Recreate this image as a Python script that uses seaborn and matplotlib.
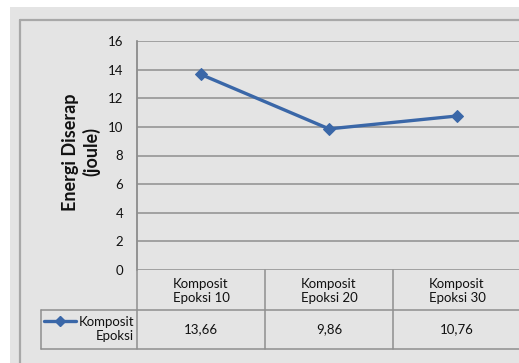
import matplotlib
matplotlib.use("Agg")
import matplotlib.pyplot as plt
import seaborn as sns
import pandas as pd
from matplotlib.lines import Line2D
from matplotlib.patches import Rectangle

# Data
categories = ["Komposit\nEpoksi 10", "Komposit\nEpoksi 20", "Komposit\nEpoksi 30"]
energy = [13.66, 9.86, 10.76]
series_name = "Komposit\nEpoksi"
y_ticks = [0, 2, 4, 6, 8, 10, 12, 14, 16]

sns.set_theme(style="white")
plt.rcParams["font.family"] = ["Lato", "DejaVu Sans"]

W, H = 519, 363
fig = plt.figure(figsize=(W / 100, H / 100), dpi=100)
fig.patch.set_facecolor("white")

BG = "#e4e4e4"
GRID = "#8f8f8f"
BLUE = "#3a67a8"
TXT = "#111111"


def fx(px):
    return px / W


def fy(py):
    return 1 - py / H


# Chart area background and its frame
fig.add_artist(Rectangle((fx(10), 0), 1, fy(7), transform=fig.transFigure,
                         facecolor=BG, edgecolor="none", zorder=0))
fig.add_artist(Line2D([fx(19.5), fx(19.5)], [0, fy(20)], transform=fig.transFigure,
                      color="#a8a8a8", lw=1.6, zorder=1))
fig.add_artist(Line2D([fx(19.5), 1], [fy(20), fy(20)], transform=fig.transFigure,
                      color="#a8a8a8", lw=1.6, zorder=1))

# Plot area
left, right, top, bottom = 137, 521, 41, 270
ax = fig.add_axes([fx(left), fy(bottom), fx(right) - fx(left), fy(top) - fy(bottom)])
ax.set_facecolor(BG)

df = pd.DataFrame({"cat": categories, "energy": energy})
sns.lineplot(data=df, x="cat", y="energy", ax=ax, color=BLUE, lw=2.4,
             marker="D", markersize=6.5, markeredgecolor=BLUE, sort=False, zorder=5)

ax.set_xlim(-0.5, len(categories) - 0.5)
ax.set_ylim(0, 16)
ax.set_yticks(y_ticks)
ax.set_yticklabels([str(t) for t in y_ticks], fontsize=9.5, color=TXT)
ax.tick_params(axis="y", length=0, pad=10)
ax.set_xticks([])
ax.set_xlabel("")
ax.set_ylabel("")
for y in y_ticks:
    ax.axhline(y, color=GRID, lw=1.1, zorder=1)
for s in ["top", "right", "bottom"]:
    ax.spines[s].set_visible(False)
ax.spines["left"].set_color(GRID)
ax.spines["left"].set_linewidth(1.1)

fig.text(fx(81), fy(152), "Energi Diserap\n(joule)", rotation=90, ha="center",
         va="center", fontsize=13, fontweight="bold", color=TXT, linespacing=1.2)

# Data table beneath the plot
row1, row2, row3 = 270, 310, 349
col_w = (right - left) / len(categories)
tl = dict(transform=fig.transFigure, color=GRID, lw=1.1, zorder=2)
fig.add_artist(Line2D([fx(left), fx(left)], [fy(top), fy(row3)], **tl))
fig.add_artist(Line2D([fx(41), 1], [fy(row2), fy(row2)], **tl))
fig.add_artist(Line2D([fx(41), 1], [fy(row3), fy(row3)], **tl))
fig.add_artist(Line2D([fx(41), fx(41)], [fy(row2), fy(row3)], **tl))
for i in range(1, len(categories)):
    xc = left + i * col_w
    fig.add_artist(Line2D([fx(xc), fx(xc)], [fy(row1), fy(row3)], **tl))

for i, (c, v) in enumerate(zip(categories, energy)):
    xc = left + (i + 0.5) * col_w
    fig.text(fx(xc), fy((row1 + row2) / 2 + 1), c, ha="center", va="center",
             fontsize=9.5, color=TXT, linespacing=1.3)
    fig.text(fx(xc), fy((row2 + row3) / 2), f"{v:.2f}".replace(".", ","),
             ha="center", va="center", fontsize=9.5, color=TXT)

# Legend key in the table
fig.add_artist(Line2D([fx(44), fx(76)], [fy(321), fy(321)], transform=fig.transFigure,
                      color=BLUE, lw=2.4, zorder=3))
fig.add_artist(Line2D([fx(60)], [fy(321)], transform=fig.transFigure,
                      color=BLUE, marker="D", markersize=5.5, lw=0, zorder=4))
fig.text(fx(134), fy(329), series_name, ha="right", va="center", fontsize=9.5,
         color=TXT, linespacing=1.3)

fig.savefig("out.png", dpi=100, facecolor=fig.get_facecolor())
